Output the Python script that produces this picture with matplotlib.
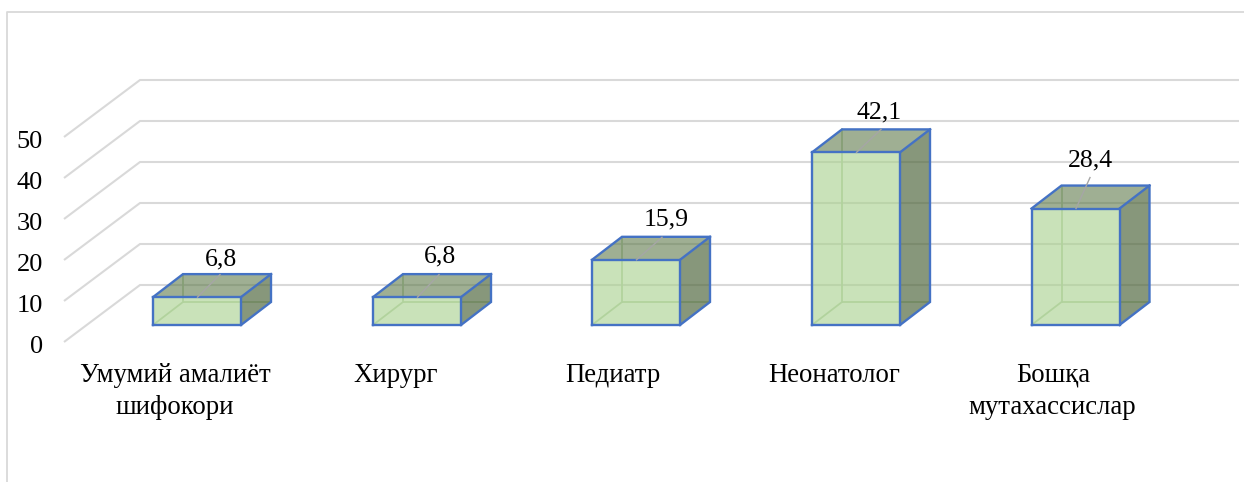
import matplotlib
matplotlib.use("Agg")
import matplotlib.pyplot as plt
from matplotlib.patches import Polygon

plt.rcParams['font.family'] = ['Liberation Serif', 'DejaVu Serif']

categories = ["Умумий амалиёт\nшифокори", "Хирург", "Педиатр", "Неонатолог", "Бошқа\nмутахассислар"]
values = [6.8, 6.8, 15.9, 42.1, 28.4]
value_labels = ["6,8", "6,8", "15,9", "42,1", "28,4"]
y_ticks = [0, 10, 20, 30, 40, 50]

W, H = 1244, 482
PX_PER_UNIT = 4.1
BASE_PX = 325          # pixel row of value 0 on the bars' front plane


def yv(px):
    """pixel row -> value scale of the bar's front plane"""
    return (BASE_PX - px) / PX_PER_UNIT


fig = plt.figure(figsize=(W / 100, H / 100), dpi=100)
ax = fig.add_axes([0, 0, 1, 1])
ax.set_xlim(0, W)
ax.set_ylim(yv(H), yv(0))
ax.axis('off')

GRID = '#D9D9D9'
EDGE = '#4472C4'
TEXT = '#000000'

# chart frame
ax.plot([7, 7, W], [yv(H), yv(12), yv(12)], color=GRID, lw=1.3, zorder=1)

# gridlines: floor/side diagonal and back wall
floor_off = yv(342)    # front of the side wall (value 0)
back_off = yv(285)     # back of the side wall (value 0)
for t in y_ticks:
    ax.plot([64, 140, 1239], [t + floor_off, t + back_off, t + back_off],
            color=GRID, lw=1.5, zorder=1, solid_capstyle='butt')
    ax.text(43, t + floor_off - 1.1, str(t), ha='right', va='center',
            fontsize=19, color=TEXT, zorder=6)

# bars
bar_w = 88
dx, dv = 30, 23 / PX_PER_UNIT
lefts = [153, 373, 592, 812, 1031.5]
for x0, v in zip(lefts, values):
    x1 = x0 + bar_w
    # inner (hidden) edges, faintly visible through the translucent faces
    ax.plot([x0, x0 + dx, x1 + dx], [0, dv, dv], color='#C0D6B6', lw=1.3, zorder=2)
    ax.plot([x0 + dx, x0 + dx], [dv, v + dv], color='#C0D6B6', lw=1.3, zorder=2)
    # faces
    ax.add_patch(Polygon([(x0, 0), (x1, 0), (x1, v), (x0, v)], closed=True,
                         facecolor='#A9D18E', alpha=0.62, edgecolor='none', zorder=3))
    ax.add_patch(Polygon([(x0, v), (x1, v), (x1 + dx, v + dv), (x0 + dx, v + dv)], closed=True,
                         facecolor='#5F7A4B', alpha=0.6, edgecolor='none', zorder=3))
    ax.add_patch(Polygon([(x1, 0), (x1 + dx, dv), (x1 + dx, v + dv), (x1, v)], closed=True,
                         facecolor='#4F663C', alpha=0.68, edgecolor='none', zorder=3))
    # edges
    ax.plot([x0, x1, x1, x0, x0], [0, 0, v, v, 0], color=EDGE, lw=1.7, zorder=4, solid_joinstyle='miter')
    ax.plot([x0, x0 + dx, x1 + dx, x1 + dx, x1], [v, v + dv, v + dv, dv, 0], color=EDGE, lw=1.7, zorder=4, solid_joinstyle='miter')
    ax.plot([x1, x1 + dx], [v, v + dv], color=EDGE, lw=1.7, zorder=4)

# value labels and leader lines
label_x = [221, 440, 666, 879, 1090]
label_gap_px = [15, 18, 17, 17, 25]
leader_end = [(220, 22.5), (439, 22.5), (662, 22.5), (881, 23), (1090, 31)]
for x0, v, s, lx, gap, (ex, ep) in zip(lefts, values, value_labels, label_x, label_gap_px, leader_end):
    ax.plot([x0 + bar_w / 2 + 0.5, ex], [v, v + ep / PX_PER_UNIT], color='#A6A6A6', lw=1, zorder=5)
    ax.text(lx, v + (dv * PX_PER_UNIT + gap) / PX_PER_UNIT, s, ha='center', va='center',
            fontsize=18.5, color=TEXT, zorder=6)

# category labels
cat_x = [175, 396, 613, 834.5, 1052]
cat_fs = 19.3
for cx, c in zip(cat_x, categories):
    if "\n" in c and c.startswith("Бошқа"):
        a, b = c.split("\n")
        ax.text(1016, yv(375), a, ha='left', va='center', fontsize=cat_fs, color=TEXT)
        ax.text(cx, yv(407), b, ha='center', va='center', fontsize=cat_fs, color=TEXT)
    elif "\n" in c:
        a, b = c.split("\n")
        ax.text(cx, yv(375), a, ha='center', va='center', fontsize=cat_fs, color=TEXT)
        ax.text(cx, yv(407), b, ha='center', va='center', fontsize=cat_fs, color=TEXT)
    else:
        ax.text(cx, yv(375), c, ha='center', va='center', fontsize=cat_fs, color=TEXT)

fig.savefig('out.png', dpi=100, facecolor='white')
